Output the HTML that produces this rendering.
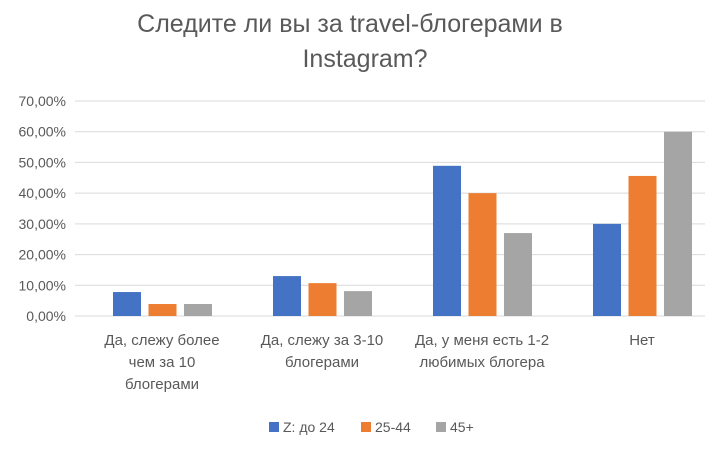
<!DOCTYPE html>
<html><head><meta charset="utf-8"><style>
body{margin:0;background:#fff;}
svg text{font-family:"Liberation Sans",sans-serif;fill:#595959;}
</style></head><body>
<svg id="chart" width="714" height="445">
<text x="350" y="32" text-anchor="middle" font-size="25">Следите ли вы за travel-блогерами в</text>
<text x="365" y="67" text-anchor="middle" font-size="25">Instagram?</text>
<g id="grid"></g><g id="bars"></g><g id="labels"></g><g id="legend"></g>
</svg>
<script>
const categories=[["Да, слежу более","чем за 10","блогерами"],["Да, слежу за 3-10","блогерами"],["Да, у меня есть 1-2","любимых блогера"],["Нет"]];
const seriesNames=["Z: до 24","25-44","45+"];
const seriesZ=[7.8,13.0,48.9,30.0];
const series2544=[3.9,10.7,40.0,45.6];
const series45=[3.9,8.1,27.0,60.0];
const ticks=[0,10,20,30,40,50,60,70];
const tickLabels=["0,00%","10,00%","20,00%","30,00%","40,00%","50,00%","60,00%","70,00%"];
const colors=["#4472C4","#ED7D31","#A5A5A5"];
const all=[seriesZ,series2544,series45];
const NS="http://www.w3.org/2000/svg";
const x0=82,x1=722,y0=316,y1=101;
const yS=v=>y0-(v/70)*(y0-y1);
const gw=(x1-x0)/categories.length;
function mk(t,a,p){const e=document.createElementNS(NS,t);for(const k in a)e.setAttribute(k,a[k]);document.getElementById(p).appendChild(e);return e;}
ticks.forEach((t,i)=>{
 const l=mk("line",{x1:75,x2:705,y1:yS(t),y2:yS(t),stroke:"#d9d9d9","stroke-width":1},"grid");
 
 
 const tx=mk("text",{x:66,y:yS(t)+5,"text-anchor":"end","font-size":14},"labels");
 tx.textContent=tickLabels[i];
 
 
});
categories.forEach((c,ci)=>{
 const cx=x0+gw*(ci+0.5);
 all.forEach((s,si)=>{
  const r=mk("rect",{x:cx-49+si*35.5,y:yS(s[ci]),width:28,height:y0-yS(s[ci]),fill:colors[si]},"bars");
  
  
 });
 c.forEach((line,li)=>{
  const tx=mk("text",{x:cx,y:345+li*22,"text-anchor":"middle","font-size":15},"labels");
  tx.textContent=line;
  
  
 });
});
const lx=[269,361,436];
seriesNames.forEach((n,i)=>{
 const r=mk("rect",{x:lx[i],y:422,width:10,height:10,fill:colors[i]},"legend");
 
 
 const t=mk("text",{x:lx[i]+14,y:432,"font-size":14},"legend");
 t.textContent=n;
 
 
});
</script>
</body></html>
